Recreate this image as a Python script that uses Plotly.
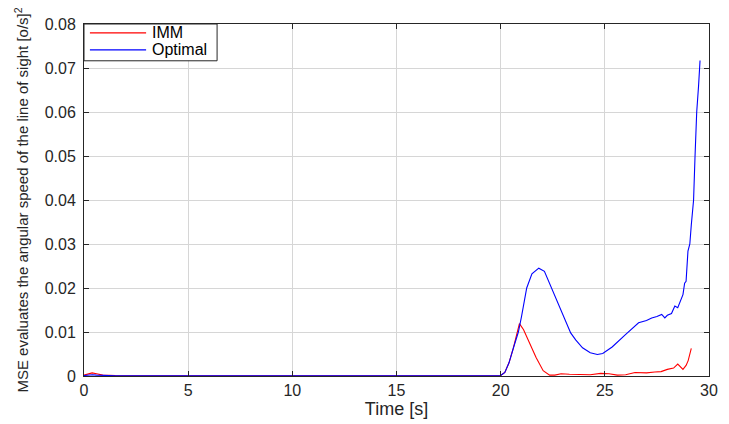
import plotly.graph_objects as go

# Optimal (blue)
t_opt = [0, 0.2, 0.4, 0.6, 0.9, 1.5, 5, 10, 15, 19.8, 20.0, 20.2, 20.4, 20.6, 20.85, 21.0, 21.25, 21.5,
         21.83, 22.1, 22.5, 23.0, 23.36, 23.6, 23.93, 24.3, 24.64, 24.9, 25.35, 25.99, 26.3, 26.62, 27.0,
         27.25, 27.5, 27.73, 27.88, 28.0, 28.2, 28.36, 28.5, 28.67, 28.75, 28.83, 28.9, 28.99, 29.08,
         29.15, 29.26, 29.33, 29.41, 29.5, 29.57]
y_opt = [0.0001, 0.0002, 0.0003, 0.0002, 0.0001, 0.00005, 0.00003, 0.00002, 0.00002, 0.00002, 0.0001,
         0.0008, 0.003, 0.0062, 0.0100, 0.0135, 0.0200, 0.0232, 0.0245, 0.0238, 0.0193, 0.0140, 0.0098,
         0.0082, 0.0064, 0.0053, 0.0049, 0.0051, 0.0066, 0.0094, 0.0108, 0.0121, 0.0126, 0.0132, 0.0135,
         0.0140, 0.0132, 0.0138, 0.0142, 0.0159, 0.0155, 0.0177, 0.0185, 0.0211, 0.0215, 0.0284, 0.0300,
         0.0343, 0.0400, 0.0500, 0.0600, 0.0660, 0.0717]

# IMM (red)
t_imm = [0, 0.2, 0.39, 0.6, 0.9, 1.5, 5, 10, 15, 19.8, 20.0, 20.2, 20.4, 20.6, 20.9, 21.1, 21.4, 21.7,
         22.04, 22.35, 22.6, 22.9, 23.3, 23.8, 24.3, 24.8, 25.2, 25.6, 26.0, 26.45, 27.0, 27.4, 27.7,
         28.0, 28.3, 28.5, 28.6, 28.75, 28.9, 29.0, 29.15]
y_imm = [0.0002, 0.0005, 0.0007, 0.0005, 0.0002, 0.0001, 0.00003, 0.00002, 0.00002, 0.00002, 0.0001,
         0.0008, 0.003, 0.0062, 0.0119, 0.0105, 0.0072, 0.0042, 0.0012, 0.0002, 0.0002, 0.0005, 0.0004,
         0.0003, 0.0003, 0.0006, 0.0005, 0.0002, 0.0003, 0.0008, 0.0007, 0.0009, 0.0010, 0.0015, 0.0018,
         0.0027, 0.0022, 0.0015, 0.0024, 0.0035, 0.0063]

series_names = ["IMM", "Optimal"]
series_colors = ["#ff0000", "#0000ff"]

x_ticks = [0, 5, 10, 15, 20, 25, 30]
y_ticks = [0, 0.01, 0.02, 0.03, 0.04, 0.05, 0.06, 0.07, 0.08]
y_tick_labels = ["0", "0.01", "0.02", "0.03", "0.04", "0.05", "0.06", "0.07", "0.08"]

FONT = "Liberation Sans, Arial, Helvetica"

fig = go.Figure()
fig.add_trace(go.Scatter(x=t_imm, y=y_imm, mode="lines", name=series_names[0],
                         line=dict(color=series_colors[0], width=1.1), showlegend=False))
fig.add_trace(go.Scatter(x=t_opt, y=y_opt, mode="lines", name=series_names[1],
                         line=dict(color=series_colors[1], width=1.1), showlegend=False))

axis_common = dict(showline=True, linecolor="#262626", linewidth=1, mirror="ticks",
                   ticks="inside", ticklen=5, tickcolor="#262626", showgrid=True,
                   gridcolor="#d6d6d6", gridwidth=1, zeroline=False,
                   tickfont=dict(family=FONT, size=16, color="#262626"))

# Manual MATLAB-style legend box (paper coordinates)
W, H = 729, 424
ml, mr, mt, mb = 84, 11, 24, 46
pw, ph = W - ml - mr, H - mt - mb


def px(xp):
    return (xp - ml) / pw


def py(yp):
    return (H - mb - yp) / ph


fig.add_shape(type="rect", xref="paper", yref="paper", x0=px(84), x1=px(219), y0=py(61), y1=py(24),
              line=dict(color="#262626", width=1), fillcolor="white", layer="above")
row_y = [33, 50]
for name, col, ry in zip(series_names, series_colors, row_y):
    fig.add_shape(type="line", xref="paper", yref="paper", x0=px(90), x1=px(147), y0=py(ry), y1=py(ry),
                  line=dict(color=col, width=1.2), layer="above")
    fig.add_annotation(xref="paper", yref="paper", x=px(151), y=py(ry), text=name, showarrow=False,
                       xanchor="left", yanchor="middle",
                       font=dict(family=FONT, size=16, color="#000000"))

fig.update_layout(
    width=W, height=H,
    margin=dict(l=ml, r=mr, t=mt, b=mb),
    plot_bgcolor="white", paper_bgcolor="white",
    showlegend=False,
    xaxis=dict(range=[0, 30], tickvals=x_ticks, ticktext=[str(v) for v in x_ticks],
               title=dict(text="Time [s]", standoff=1,
                          font=dict(family=FONT, size=18, color="#262626")),
               **axis_common),
    yaxis=dict(range=[0, 0.08], tickvals=y_ticks, ticktext=y_tick_labels, ticklabelstandoff=4,
               title=dict(text="MSE evaluates the angular speed of the line of sight [o/s]<sup>2</sup>",
                          standoff=12,
                          font=dict(family="Liberation Sans Narrow, Liberation Sans, Arial", size=15,
                                    color="#262626")),
               **axis_common),
)

fig.write_html("out.html")
